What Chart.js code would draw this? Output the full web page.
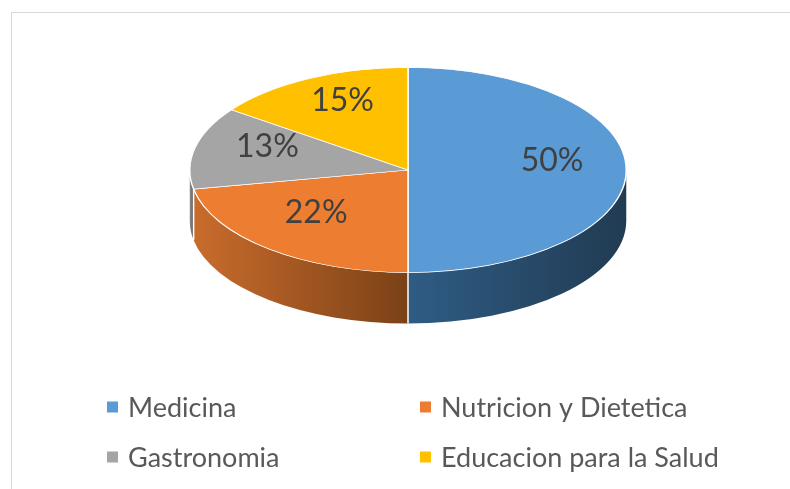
<!DOCTYPE html>
<html><head><meta charset="utf-8">
<script src="https://cdn.jsdelivr.net/npm/chart.js@4/dist/chart.umd.min.js"></script>
<style>
html,body{margin:0;padding:0;background:#fff;overflow:hidden}
#wrap{position:relative;width:790px;height:489px;overflow:hidden}
#frame{position:absolute;left:11px;top:12px;width:900px;height:600px;border:1px solid #d9d9d9;box-sizing:border-box}
canvas{position:absolute;left:0;top:0}
</style></head><body>
<div id="wrap"><div id="frame"></div><canvas id="c" width="790" height="489"></canvas></div>
<script>
// ---- data ----
const categories = ['Medicina', 'Nutricion y Dietetica', 'Gastronomia', 'Educacion para la Salud'];
const values = [50, 22, 13, 15];

// ---- style ----
const colors = ['#5B9BD5', '#ED7D31', '#A5A5A5', '#FFC000'];
const sideColors = [['#2F5C85', '#213B52'], ['#C96C2C', '#7B4117'], ['#8C8C8C', '#5E5E5E'], ['#C99700', '#8A6800']];
const TILT = 0.47, DEPTH = 51, CY = 170, LABEL_R = 0.66, LABEL_DY = -9;

const pie3d = {
  id: 'pie3d',
  beforeDatasetsDraw(chart) {
    const ctx = chart.ctx;
    const meta = chart.getDatasetMeta(0);
    const el0 = meta.data[0];
    const cx = el0.x, R = el0.outerRadius, ry = TILT * R;
    ctx.save();
    meta.data.forEach((el, i) => {
      const a1 = Math.max(el.startAngle, 0), a2 = Math.min(el.endAngle, Math.PI);
      if (a2 <= a1) return;
      const left = cx + R * Math.cos(a2), right = cx + R * Math.cos(a1);
      const g = ctx.createLinearGradient(left, 0, right, 0);
      g.addColorStop(0, sideColors[i][0]);
      g.addColorStop(1, sideColors[i][1]);
      ctx.beginPath();
      ctx.moveTo(cx + R * Math.cos(a1), CY + ry * Math.sin(a1));
      ctx.ellipse(cx, CY, R, ry, 0, a1, a2, false);
      ctx.lineTo(cx + R * Math.cos(a2), CY + DEPTH + ry * Math.sin(a2));
      ctx.ellipse(cx, CY + DEPTH, R, ry, 0, a2, a1, true);
      ctx.closePath();
      ctx.fillStyle = g;
      ctx.fill();
    });
    // white seams on the side
    ctx.strokeStyle = '#ffffff';
    ctx.lineWidth = 1.5;
    meta.data.forEach((el) => {
      const b = el.startAngle;
      if (b > 0 && b < Math.PI) {
        const x = cx + R * Math.cos(b), y = CY + ry * Math.sin(b);
        ctx.beginPath(); ctx.moveTo(x, y); ctx.lineTo(x, y + DEPTH); ctx.stroke();
      }
    });
    ctx.restore();
    ctx.save();
    ctx.translate(cx, CY);
    ctx.scale(1, TILT);
    ctx.translate(-el0.x, -el0.y);
  },
  afterDatasetsDraw(chart) {
    const ctx = chart.ctx;
    ctx.restore();
    const meta = chart.getDatasetMeta(0);
    ctx.save();
    ctx.fillStyle = '#404040';
    ctx.font = '32px Lato';
    ctx.textAlign = 'center';
    ctx.textBaseline = 'middle';
    meta.data.forEach((el, i) => {
      const mid = (el.startAngle + el.endAngle) / 2;
      const r = LABEL_R * el.outerRadius;
      ctx.fillText(values[i] + '%', el.x + r * Math.cos(mid), CY + LABEL_DY + TILT * r * Math.sin(mid));
    });
    ctx.restore();
  },
  afterDraw(chart) {
    const ctx = chart.ctx;
    const colX = [107, 420], rowY = [407, 457];
    ctx.save();
    ctx.font = '27px Lato';
    ctx.textBaseline = 'middle';
    ctx.textAlign = 'left';
    chart.data.labels.forEach((lab, i) => {
      const x = colX[i % 2], y = rowY[Math.floor(i / 2)];
      ctx.fillStyle = chart.data.datasets[0].backgroundColor[i];
      ctx.fillRect(x, y - 5.5, 11, 11);
      ctx.fillStyle = '#595959';
      ctx.fillText(lab, x + 21, y + 1);
    });
    ctx.restore();
  }
};

new Chart(document.getElementById('c'), {
  type: 'pie',
  data: {
    labels: categories,
    datasets: [{
      data: values,
      backgroundColor: colors,
      borderColor: '#ffffff',
      borderWidth: 1.5,
      clip: false
    }]
  },
  options: {
    responsive: false,
    devicePixelRatio: 1,
    animation: false,
    events: [],
    layout: { padding: { left: 189, right: 163, top: 0, bottom: 51 } },
    plugins: { legend: { display: false }, tooltip: { enabled: false } }
  },
  plugins: [pie3d]
});
</script>
</body></html>
